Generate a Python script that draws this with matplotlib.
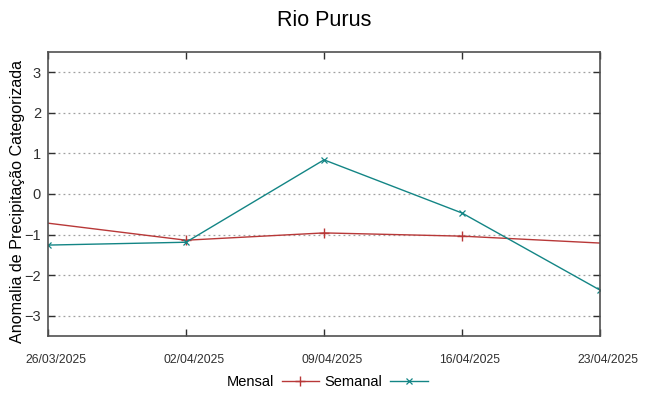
import pandas as pd
import matplotlib
matplotlib.use("Agg")
import matplotlib.pyplot as plt
import matplotlib.dates as mdates
import matplotlib.transforms as mtransforms

plt.rcParams['font.family'] = ['Liberation Sans', 'DejaVu Sans']

# Data
semanal_dates = ["2025-03-26", "2025-04-02", "2025-04-09", "2025-04-16", "2025-04-23"]
semanal_vals = [-1.26, -1.19, 0.84, -0.47, -2.37]

# Mensal line continues past both ends of the axis
mensal_dates = ["2025-03-19", "2025-04-02", "2025-04-09", "2025-04-16", "2025-04-30"]
mensal_vals = [-0.30, -1.14, -0.96, -1.04, -1.38]

tick_dates = ["2025-03-26", "2025-04-02", "2025-04-09", "2025-04-16", "2025-04-23"]
y_ticks = [-3, -2, -1, 0, 1, 2, 3]

fig = plt.figure(figsize=(6.48, 3.96), dpi=100)
ax = fig.add_axes([0.074, 0.1515, 0.852, 0.7175])

ax.plot(pd.to_datetime(mensal_dates), mensal_vals, color="#b83838", lw=1.0,
        marker="+", markersize=7, markeredgewidth=1.0, label="Mensal")
ax.plot(pd.to_datetime(semanal_dates), semanal_vals, color="#138585", lw=1.0,
        marker="x", markersize=5, markeredgewidth=0.9, label="Semanal")

ax.set_xlim(pd.Timestamp(tick_dates[0]), pd.Timestamp(tick_dates[-1]))
ax.set_ylim(-3.5, 3.5)
ax.set_xticks(pd.to_datetime(tick_dates))
ax.xaxis.set_major_formatter(mdates.DateFormatter("%d/%m/%Y"))
ax.set_yticks(y_ticks)

ax.grid(axis="y", linestyle=(0, (1.5, 2.5)), color="#a0a0a0", lw=0.9)
ax.tick_params(direction="in", length=5, width=1, color="#404040",
               top=True, right=True)
ax.tick_params(axis="x", labelsize=8.7, pad=13, colors="#303030")
ax.tick_params(axis="y", labelsize=10.5, pad=5, colors="#303030")
for s in ax.spines.values():
    s.set_color("#505050")
    s.set_linewidth(1.2)

# date labels sit a little to the right of their ticks
shift = mtransforms.ScaledTranslation(8 / 100, 0, fig.dpi_scale_trans)
for lbl in ax.get_xticklabels():
    lbl.set_transform(lbl.get_transform() + shift)

ax.set_ylabel("Anomalia de Precipitação Categorizada", fontsize=11.6)
ax.yaxis.set_label_coords(-0.041, 0.472)
fig.suptitle("Rio Purus", fontsize=15.5, y=0.975)

fig.legend(loc="center", bbox_to_anchor=(0.505, 0.035), ncol=2, frameon=False,
           markerfirst=False, fontsize=10.5, handlelength=2.6, columnspacing=0.35,
           handletextpad=0.5)

fig.savefig("out.png", dpi=100)
